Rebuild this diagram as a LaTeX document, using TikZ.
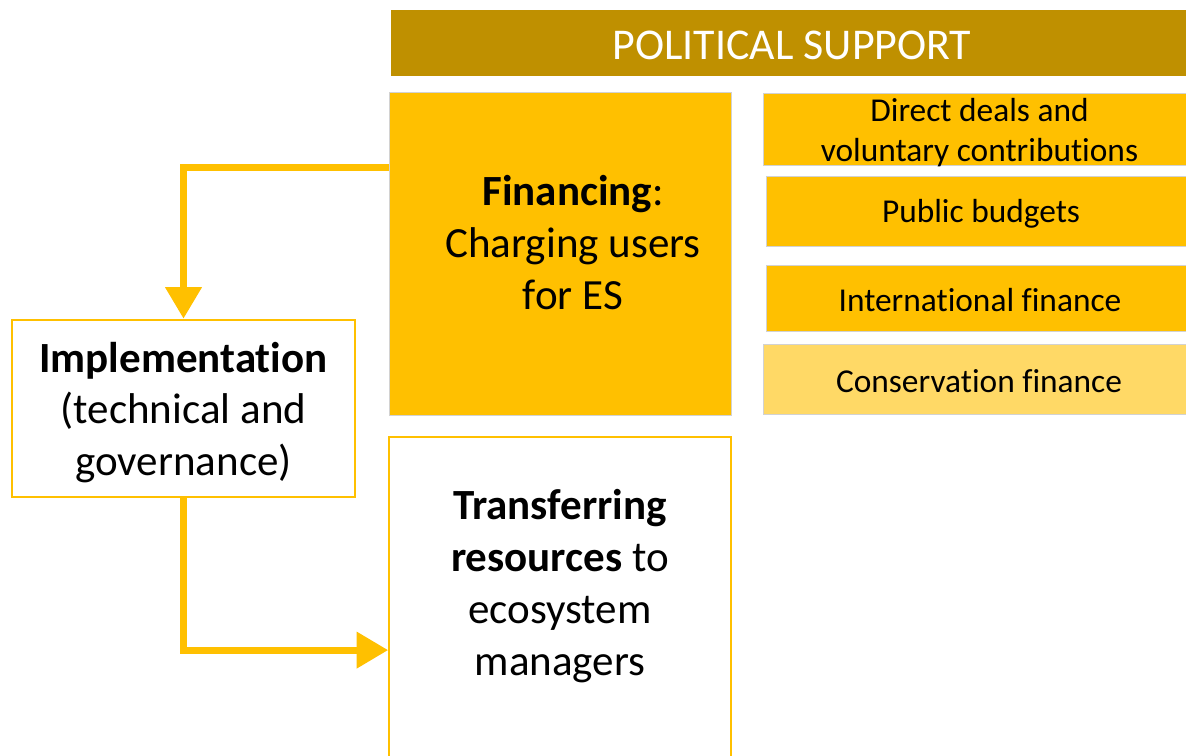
\documentclass[tikz,border=0pt]{standalone}
\usepackage{fontspec}
\setmainfont{Carlito}[RawFeature=-liga]
\usetikzlibrary{arrows, positioning, shapes.geometric, arrows.meta}
\definecolor{darkgold}{HTML}{BF9000}
\definecolor{gold}{HTML}{FFC000}
\definecolor{lightgold}{HTML}{FFD966}
\tikzset{
	bigtext/.style={font=\fontsize{24.5}{29.5}\selectfont, align=center},
	smalltext/.style={font=\fontsize{19}{22.7}\selectfont, align=center},
	goldbox/.style={draw=gray!35, fill=gold, inner sep=0pt},
	flow/.style={draw=gold, line width=4pt, ->}
}
\begin{document}
\begin{tikzpicture}[x=0.02cm, y=-0.02cm, >={Triangle[width=20pt,length=18pt]}]
		\clip (0,0) rectangle (1186,756);
		\fill[white] (0,0) rectangle (1186,756);

		\node[fill=darkgold, minimum width=15.9cm, minimum height=1.32cm, text=white, font=\fontsize{25}{30}\selectfont] (title) at (788.5,43) {};
		\node[text=white, font=\fontsize{25}{30}\selectfont] (titletxt) at (792,45) {POLITICAL SUPPORT};

		\node[goldbox, minimum width=6.84cm, minimum height=6.46cm] (fin) at (560,253.5) {};
		\node[bigtext] (fintxt) at (573,242.5) {\textbf{Financing}:\\Charging users\\for ES};

		\node[draw=gold, line width=1pt, fill=white, minimum width=6.84cm, minimum height=6.46cm] (trans) at (560,598.5) {};
		\node[bigtext] (transtxt) at (560,586) {\textbf{Transferring}\\\textbf{resources} to\\ecosystem\\managers};

		\node[draw=gold, line width=1.5pt, fill=white, minimum width=6.86cm, minimum height=3.54cm] (impl) at (183.5,408.5) {};
		\node[bigtext] (impltxt) at (183.5,412.5) {\textbf{Implementation}\\(technical and\\governance)};

		\node[goldbox, minimum width=8.46cm, minimum height=1.44cm] (deals) at (974.5,129) {};
		\node[smalltext] (dealstxt) at (979.5,133) {Direct deals and\\voluntary contributions};
		\node[goldbox, minimum width=8.4cm, minimum height=1.4cm] (budgets) at (976,211) {};
		\node[smalltext] (budgetstxt) at (981,214) {Public budgets};
		\node[goldbox, minimum width=8.4cm, minimum height=1.32cm] (intl) at (976,298) {};
		\node[smalltext] (intltxt) at (980,300) {International finance};
		\node[goldbox, fill=lightgold, minimum width=8.46cm, minimum height=1.4cm] (cons) at (974.5,379) {};
		\node[smalltext] (constxt) at (979,381) {Conservation finance};

		\draw[flow] ([yshift=-1.52cm]fin.north west) -| (impl.north);
		\draw[flow] (impl.south) |- ([yshift=-4.28cm]trans.north west);
	\end{tikzpicture}
\end{document}
